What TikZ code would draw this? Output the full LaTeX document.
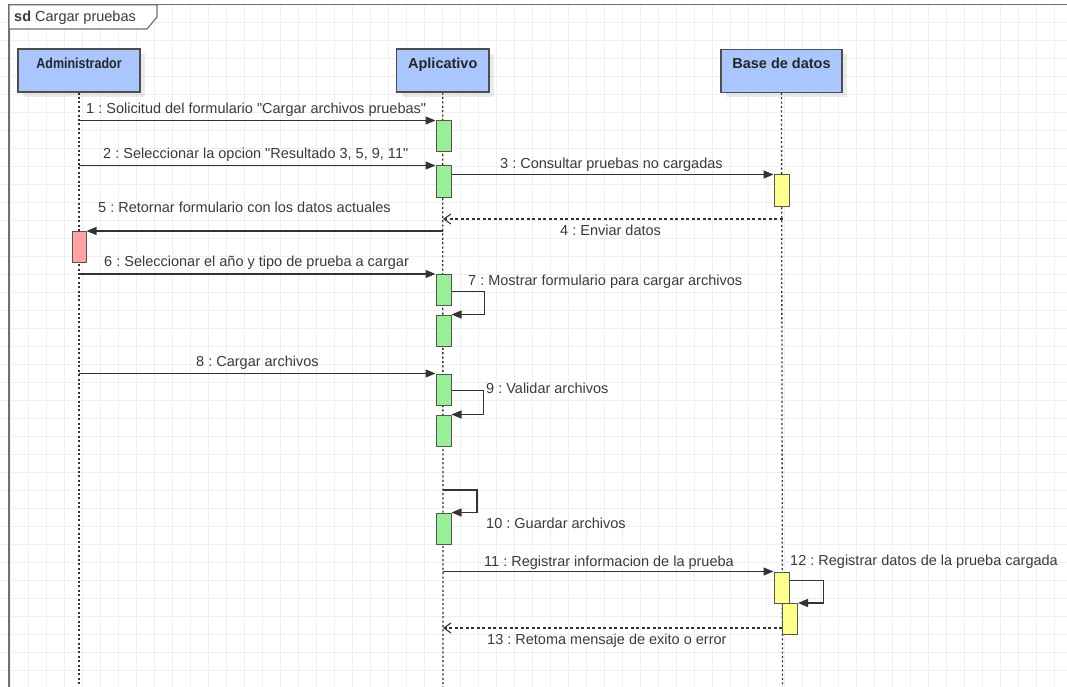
\documentclass[tikz,border=0pt]{standalone}
\usepackage{fontspec}
\setmainfont{Liberation Sans}
\usetikzlibrary{arrows.meta,shadows}
\definecolor{gridc}{HTML}{EFEFEF}
\definecolor{framec}{HTML}{707070}
\definecolor{linec}{HTML}{333333}
\definecolor{textc}{HTML}{3A3A3A}
\definecolor{headfill}{HTML}{A9C6FE}
\definecolor{headdraw}{HTML}{4D4D4D}
\definecolor{headtxt}{HTML}{262626}
\definecolor{actdraw}{HTML}{555555}
\definecolor{greenf}{HTML}{97F095}
\definecolor{yellowf}{HTML}{FFFF8C}
\definecolor{redf}{HTML}{FFA3A3}
\begin{document}
\frenchspacing
\begin{tikzpicture}[x=1pt,y=-1pt,
  txt/.style={font=\fontsize{14.5}{17}\selectfont, text=textc, inner sep=0pt},
  lbl/.style={txt, anchor=base west},
  head/.style={draw=headdraw, fill=headfill, line width=1.2pt, minimum width=#1,
    inner xsep=0pt, inner ysep=5pt, text height=14.5pt, text depth=18.5pt,
    font=\bfseries\fontsize{14.5}{17}\selectfont, text=headtxt,
    drop shadow={shadow xshift=5pt, shadow yshift=-5pt, fill=black, opacity=0.08}},
  life/.style={draw=linec, line width=1.3pt, dash pattern=on 2pt off 2.4pt},
  act/.style={draw=actdraw, line width=1pt, minimum width=15pt, minimum height=31pt, inner sep=0pt},
  actg/.style={act, fill=greenf},
  acty/.style={act, fill=yellowf},
  actr/.style={act, fill=redf, minimum width=14pt},
  msg/.style={draw=linec, line width=1.2pt, -{Triangle[length=10pt,width=8pt]}},
  ret/.style={draw=linec, line width=1.2pt, dash pattern=on 3pt off 2.5pt,
    -{Straight Barb[length=7pt,width=10pt,line width=1.1pt]}},
]
\useasboundingbox (0,0) rectangle (1067,687);

% background grid
\begin{scope}
  \clip (0,0) rectangle (1067,687);
  \foreach \gx in {10,28,...,1067} \draw[gridc, line width=0.9pt] (\gx,4.7) -- (\gx,687);
  \foreach \gy in {22.7,40.7,...,687} \draw[gridc, line width=0.9pt] (0,\gy) -- (1067,\gy);
\end{scope}

% diagram frame and its name tab
\draw[framec, line width=1.4pt] (9,687) -- (9,4.7) -- (1067,4.7);
\draw[framec, line width=1.2pt, fill=white] (9,4.7) -- (157,4.7) -- (157,17) -- (147,29) -- (9,29) -- cycle;
\node[lbl] (sdname) at (14,21.5) {\textbf{sd} Cargar pruebas};

% lifeline heads
\node[head=122pt] (adm) at (79,70.5) {\scalebox{0.86}[1]{Administrador}};
\node[head=92.5pt] (app) at (442.75,70.5) {Aplicativo};
\node[head=121pt] (bd)  at (781.5,70.75) {Base de datos};

% lifelines
\coordinate (A0) at (79,92);    \coordinate (A1) at (79,687);
\coordinate (P0) at (443,92.5); \coordinate (P1) at (443,687);
\coordinate (D0) at (782.5,93); \coordinate (D1) at (782.5,687);
\draw[life] (adm.south) -- (A1);
\draw[life] (app.south) -- (P1);
\draw[life] (bd.south) -- (D1);

% activation bars
\node[actg] (g1) at (443.5,136.5) {};
\node[actg] (g2) at (443.5,181.5) {};
\node[acty] (y1) at (781.5,190.5) {};
\node[actr] (r1) at (79,247) {};
\node[actg] (g3) at (443.5,290) {};
\node[actg] (g4) at (443.5,330.5) {};
\node[actg] (g5) at (443.5,389.5) {};
\node[actg] (g6) at (443.5,430.5) {};
\node[actg] (g7) at (443.5,528.5) {};
\node[acty] (y2) at (781.5,587.5) {};
\node[acty] (y3) at (790,619) {};

% messages
\draw[msg] (A0 |- g1.north west) -- (g1.north west);
\draw[msg] (A0 |- g2.north west) -- (g2.north west);
\draw[msg] (g2.east |- y1.north west) -- (y1.north west);
\coordinate (r4) at (782.5,219);
\draw[ret] (r4) -- (P0 |- r4);
\draw[msg] (P0 |- r1.north east) -- (r1.north east);
\draw[msg] (A0 |- g3.north west) -- (g3.north west);
\draw[msg] ([yshift=-17.5pt]g3.north east) -- ++(33,0) |- (g4.north east);
\draw[msg] (A0 |- g5.north west) -- (g5.north west);
\draw[msg] ([yshift=-17pt]g5.north east) -- ++(32,0) |- (g6.north east);
\coordinate (s10) at (443,490);
\draw[msg] (s10) -- ++(34,0) |- (g7.north east);
\draw[msg] (P0 |- y2.north west) -- (y2.north west);
\draw[msg] ([yshift=-9pt]y2.north east) -- ++(34,0) |- (y3.north east);
\coordinate (s13) at ([yshift=-25pt]y3.north west);
\draw[ret] (s13) -- (P0 |- s13);

% message labels
\node[lbl] (l1)  at (86,113.5)  {1 : Solicitud del formulario \textquotedbl Cargar archivos pruebas\textquotedbl};
\node[lbl] (l2)  at (103,158.3) {2 : Seleccionar la opcion \textquotedbl Resultado 3, 5, 9, 11\textquotedbl};
\node[lbl] (l3)  at (500,169)   {3 : Consultar pruebas no cargadas};
\node[lbl] (l4)  at (560,235)   {4 : Enviar datos};
\node[lbl] (l5)  at (98,212)    {5 : Retornar formulario con los datos actuales};
\node[lbl] (l6)  at (104,266.7) {6 : Seleccionar el año y tipo de prueba a cargar};
\node[lbl] (l7)  at (468,285.7) {7 : Mostrar formulario para cargar archivos};
\node[lbl] (l8)  at (196,366)   {8 : Cargar archivos};
\node[lbl] (l9)  at (486,393.3) {9 : Validar archivos};
\node[lbl] (l10) at (486,528.3) {10 : Guardar archivos};
\node[lbl] (l11) at (484,566)   {11 : Registrar informacion de la prueba};
\node[lbl] (l12) at (790,565)   {12 : Registrar datos de la prueba cargada};
\node[lbl] (l13) at (487,644.5) {13 : Retoma mensaje de exito o error};
\end{tikzpicture}
\end{document}
